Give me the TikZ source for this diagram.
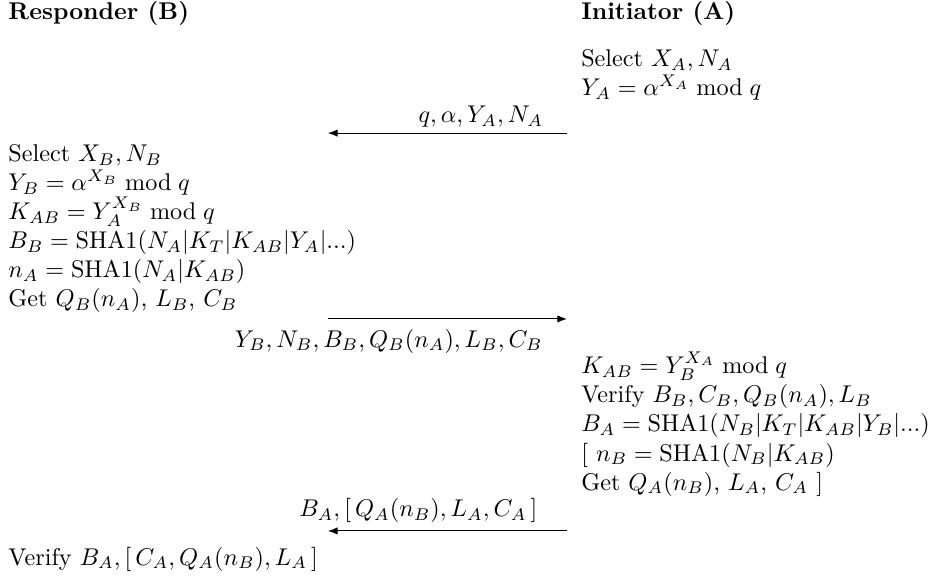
\documentclass[tikz,border=0pt]{standalone}
\usepackage{amsmath,amssymb}
\usetikzlibrary{arrows.meta, positioning}

\begin{document}
\begin{tikzpicture}[
    x=1pt, y=1pt,
    party/.style={anchor=base west, inner sep=0pt, font=\bfseries},
    steps/.style={anchor=base west, inner sep=0pt, align=left},
    msglabel/.style={anchor=base east, inner sep=0pt},
    msg/.style={thin, -{Latex[length=4pt, width=3pt]}},
]
    \useasboundingbox (0,0) rectangle (386.8,-241.7);

    % the two parties
    \node (resp) [party] at (3.3,-8) {Responder (B)};
    \node (init) [party] at (240,-8) {Initiator (A)};

    % A starts (base = last line)
    \node (a_start) [steps] at (240,-39.5) {Select $X_A, N_A$\\
        $Y_A = \alpha^{X_A} \bmod q$};

    \coordinate (a_one) at (234.3,-55);
    \coordinate (b_one) at (135.5,-55);
    \draw [msg] (a_one) -- (b_one);
    \node (lbl_one) [msglabel] at (224.6,-50.8) {$q, \alpha, Y_A, N_A$};

    % B answers
    \node (b_reply) [steps] at (3.3,-126.7) {Select $X_B, N_B$\\
        $Y_B = \alpha^{X_B} \bmod q$\\
        $K_{AB} = Y_A^{X_B} \bmod q$\\
        $B_B = \text{SHA1}(N_A|K_T|K_{AB}|Y_A|...)$\\
        $n_A = \text{SHA1}(N_A|K_{AB})$\\
        Get $Q_B(n_A)$, $L_B$, $C_B$};

    \coordinate (b_two) at (135.5,-131.8);
    \coordinate (a_two) at (234.3,-131.8);
    \draw [msg] (b_two) -- (a_two);
    \node (lbl_two) [msglabel] at (224.4,-143.4) {$Y_B, N_B, B_B, Q_B(n_A), L_B, C_B$};

    % A checks
    \node (a_check) [steps] at (240,-202.5) {$K_{AB} = Y_B^{X_A} \bmod q$\\
        Verify $B_B, C_B, Q_B(n_A), L_B$\\
        $B_A = \text{SHA1}(N_B|K_T|K_{AB}|Y_B|...)$\\
        {[} $n_B = \text{SHA1}(N_B|K_{AB})$\\
        Get $Q_A(n_B)$, $L_A$, $C_A$ ]};

    \coordinate (a_three) at (234.3,-219.4);
    \coordinate (b_three) at (135.5,-219.4);
    \draw [msg] (a_three) -- (b_three);
    \node (lbl_three) [msglabel] at (222.3,-213.6) {$B_A, [\,Q_A(n_B), L_A, C_A\,]$};

    % B checks
    \node (b_check) [steps] at (3.3,-233.5) {Verify $B_A, [\,C_A, Q_A(n_B), L_A\,]$};

\end{tikzpicture}
\end{document}
